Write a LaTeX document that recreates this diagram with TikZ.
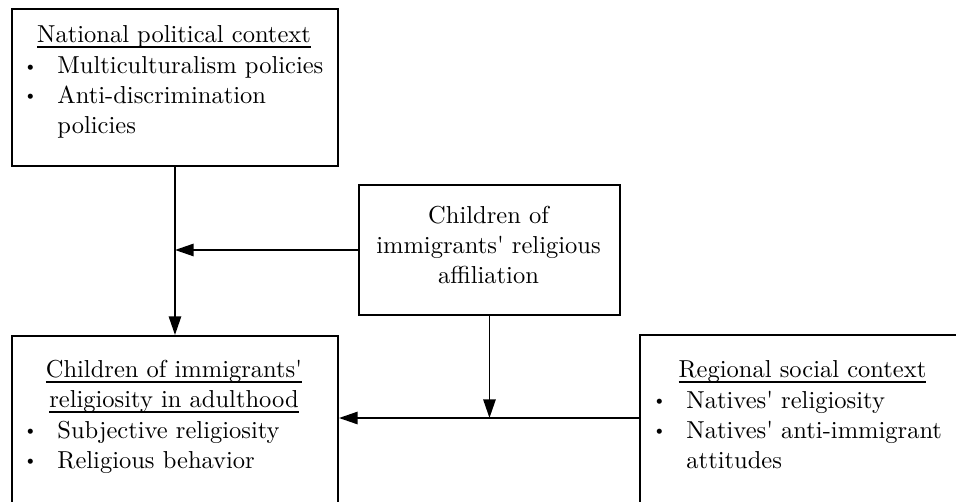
\documentclass[tikz,border=0pt]{standalone}
\usetikzlibrary{arrows.meta}
\newlength\ulw
\newcommand\myul[1]{\settowidth\ulw{#1}\makebox[0pt][l]{\rule[-2.4pt]{\ulw}{0.7pt}}#1}
\newcommand\bul{\makebox[0pt][r]{\raisebox{0.9pt}{\scriptsize\textbullet}\hspace{8pt}}}
\newcommand\sq{\textquotesingle}
\begin{document}
\begin{tikzpicture}[x=0.408pt,y=-0.408pt,
  box/.style={draw, line width=0.8pt, inner sep=0pt, anchor=north west},
  txt/.style={inner sep=0pt, font=\fontsize{10}{12.2}\selectfont},
  arr/.style={line width=0.8pt, -{Triangle[length=7.6pt,width=5pt]}}]
\useasboundingbox (0,0) rectangle (956,501);
\clip (0,0) rectangle (956,501);
% boxes
\node[box, minimum width={326*0.408pt}, minimum height={157*0.408pt}] (nat) at (11,8) {};
\node[box, minimum width={261*0.408pt}, minimum height={130*0.408pt}] (aff) at (358,184) {};
\node[box, minimum width={326*0.408pt}, minimum height={220*0.408pt}] (rel) at (11,335) {};
\node[box, minimum width={331*0.408pt}, minimum height={220*0.408pt}] (reg) at (639,334) {};
% texts (base anchor = baseline of the last line)
\node[txt, anchor=base] (natT) at (174,42) {\myul{National political context}};
\node[txt, anchor=base west, align=left] (natL) at (57,133) {\bul Multiculturalism policies\\ \bul Anti-discrimination\\ policies};
\node[txt, anchor=base, align=center] (affT) at (488.5,283) {Children of\\ immigrants\sq\ religious\\ affiliation};
\node[txt, anchor=base, align=center] (relT) at (174,407) {\myul{Children of immigrants\sq}\\ \myul{religiosity in adulthood}};
\node[txt, anchor=base west, align=left] (relL) at (57,468) {\bul Subjective religiosity\\ \bul Religious behavior};
\node[txt, anchor=base] (regT) at (802.5,377) {\myul{Regional social context}};
\node[txt, anchor=base west, align=left] (regL) at (686,468) {\bul Natives\sq\ religiosity\\ \bul Natives\sq\ anti-immigrant\\ attitudes};
% connectors
\coordinate (m) at (nat.south |- aff.west);
\coordinate (j) at (aff.south |- 0,418);
\draw[arr] (nat.south) -- (rel.north);
\draw[arr] (aff.west) -- (m);
\draw[arr] (aff.south) -- (j);
\draw[arr] (reg.north west |- j) -- (rel.north east |- j);
\end{tikzpicture}
\end{document}
